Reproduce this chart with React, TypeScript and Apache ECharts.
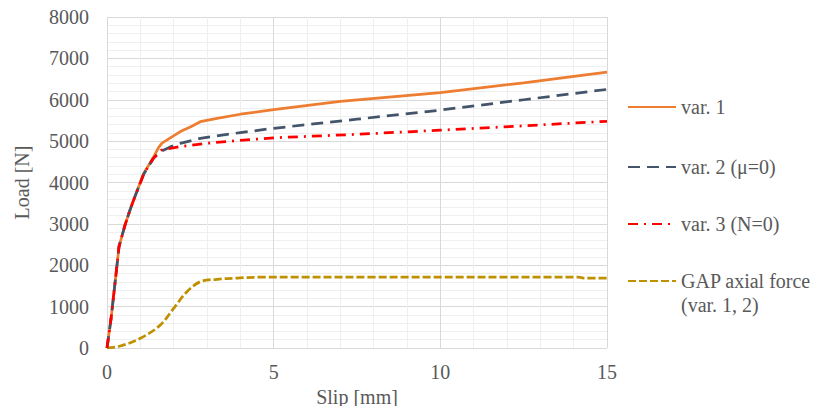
import React, { useEffect, useRef } from "react";
import * as echarts from "echarts";

const var1Slip = [0, 0.12, 0.3, 0.36, 0.54, 0.69, 0.8, 1.1, 1.4, 1.55, 1.65, 1.9, 2.2, 2.5, 2.8, 3.3, 4, 5, 7, 10, 12.5, 15];
const var1Load = [0, 700, 2000, 2450, 2970, 3335, 3580, 4220, 4620, 4850, 4950, 5080, 5230, 5340, 5470, 5550, 5650, 5760, 5960, 6170, 6410, 6670];

const var2Slip = [0, 0.12, 0.3, 0.36, 0.54, 0.69, 0.8, 1.1, 1.4, 1.6, 1.9, 2.2, 2.8, 3.4, 4, 5, 7.5, 10, 12.5, 15];
const var2Load = [0, 700, 2000, 2450, 2970, 3335, 3580, 4200, 4590, 4745, 4860, 4947, 5067, 5140, 5205, 5310, 5530, 5750, 6000, 6250];

const var3Slip = [0, 0.12, 0.3, 0.36, 0.54, 0.69, 0.8, 1.1, 1.39, 1.64, 2.19, 2.99, 3.89, 5, 7.5, 10, 12.5, 15];
const var3Load = [0, 700, 2000, 2450, 2970, 3335, 3580, 4200, 4584, 4785, 4866, 4947, 5011, 5080, 5165, 5265, 5370, 5480];

const gapSlip = [0, 0.4, 1.0, 1.6, 2.0, 2.4, 2.8, 3.3, 3.9, 4.5, 8, 14.15, 14.3, 15];
const gapLoad = [0, 48, 234, 556, 959, 1361, 1603, 1660, 1690, 1710, 1710, 1710, 1690, 1690];

const seriesNames = ["var. 1", "var. 2 (μ=0)", "var. 3 (N=0)", "GAP axial force\n(var. 1, 2)"];
const xTicks = { min: 0, max: 15, interval: 5 };
const yTicks = { min: 0, max: 8000, interval: 1000 };

const zip = (xs: number[], ys: number[]) => xs.map((x, i) => [x, ys[i]]);

const FONT = "Liberation Serif";
const TEXT = "#595959";

export default function App() {
  const ref = useRef<HTMLDivElement>(null);
  useEffect(() => {
    if (!ref.current) return;
    const chart = echarts.init(ref.current, undefined, { renderer: "svg" });
    const legendCommon = {
      orient: "vertical" as const,
      left: 627,
      itemWidth: 48,
      itemHeight: 14,
      itemGap: 0,
      padding: 0,
      selectedMode: false,
      itemStyle: { opacity: 0 },
      textStyle: { color: TEXT, fontFamily: FONT, fontSize: 20, lineHeight: 24 },
    };
    const axisText = { color: TEXT, fontSize: 20, fontFamily: FONT, fontWeight: "normal" as const };
    chart.setOption({
      animation: false,
      textStyle: { fontFamily: FONT },
      grid: { left: 107, right: 206, top: 17, bottom: 58, containLabel: false, outerBoundsMode: "none" },
      legend: [
        { ...legendCommon, top: 95, data: [seriesNames[0]] },
        { ...legendCommon, top: 155, data: [seriesNames[1]] },
        { ...legendCommon, top: 212, data: [seriesNames[2]] },
        {
          ...legendCommon,
          top: 245,
          data: [seriesNames[3]],
          formatter: (n: string) => "\n" + n,
        },
      ],
      xAxis: {
        type: "value",
        min: xTicks.min,
        max: xTicks.max,
        interval: xTicks.interval,
        name: "Slip [mm]",
        nameLocation: "middle",
        nameGap: 19,
        nameTextStyle: { ...axisText },
        axisLine: { show: false },
        axisTick: { show: false },
        axisLabel: { ...axisText, margin: 14, formatter: (v: number) => String(v) },
        splitLine: { show: true, lineStyle: { color: "#D9D9D9", width: 1 } },
        minorTick: { show: false, splitNumber: 5 },
        minorSplitLine: { show: true, lineStyle: { color: "#EFEFEF", width: 1 } },
      },
      yAxis: {
        type: "value",
        min: yTicks.min,
        max: yTicks.max,
        interval: yTicks.interval,
        name: "Load [N]",
        nameLocation: "middle",
        nameGap: 75,
        nameTextStyle: { ...axisText },
        axisLine: { show: false },
        axisTick: { show: false },
        axisLabel: { ...axisText, margin: 18, formatter: (v: number) => String(v) },
        splitLine: { show: true, lineStyle: { color: "#D9D9D9", width: 1 } },
        minorTick: { show: false, splitNumber: 5 },
        minorSplitLine: { show: true, lineStyle: { color: "#EFEFEF", width: 1 } },
      },
      series: [
        {
          name: seriesNames[3],
          type: "line",
          data: zip(gapSlip, gapLoad),
          showSymbol: false,
          symbol: "none",
          smooth: 0.35,
          lineStyle: { color: "#BF9000", width: 2.75, type: [8, 3] },
          itemStyle: { color: "#BF9000" },
          z: 2,
        },
        {
          name: seriesNames[0],
          type: "line",
          data: zip(var1Slip, var1Load),
          showSymbol: false,
          symbol: "none",
          lineStyle: { color: "#ED7D31", width: 2.75 },
          itemStyle: { color: "#ED7D31" },
          z: 3,
        },
        {
          name: seriesNames[1],
          type: "line",
          data: zip(var2Slip, var2Load),
          showSymbol: false,
          symbol: "none",
          lineStyle: { color: "#44546A", width: 2.75, type: [12, 7] },
          itemStyle: { color: "#44546A" },
          z: 4,
        },
        {
          name: seriesNames[2],
          type: "line",
          data: zip(var3Slip, var3Load),
          showSymbol: false,
          symbol: "none",
          lineStyle: { color: "#FF0000", width: 2.75, type: [10, 6, 2, 6] },
          itemStyle: { color: "#FF0000" },
          z: 5,
        },
      ],
    });
    return () => chart.dispose();
  }, []);
  return <div ref={ref} style={{ width: 813, height: 406, position: "absolute", left: 0, top: 0 }} />;
}
